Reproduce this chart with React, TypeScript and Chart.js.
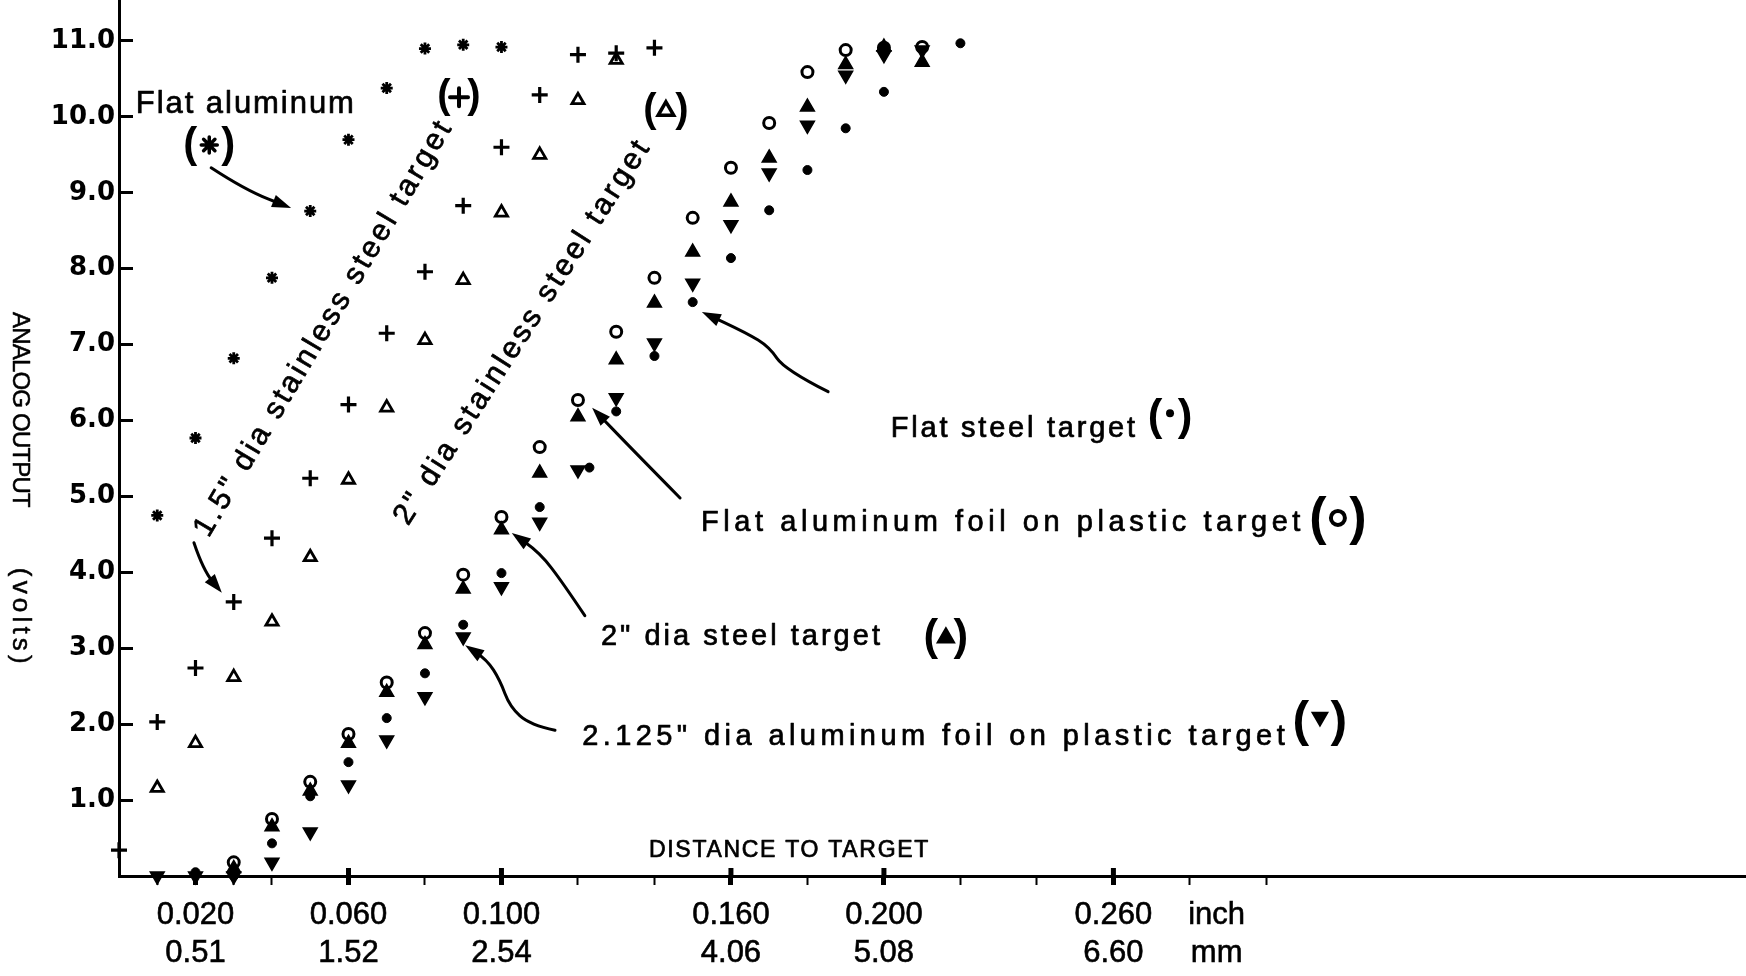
import React, { useEffect, useRef } from "react";
import { Chart, registerables } from "chart.js";

Chart.register(...registerables);

// ---------------- data: distance to target (inch) vs analog output (volts) ----------------
// Flat aluminum (*)
const FLAT_AL_X = [0.01, 0.02, 0.03, 0.04, 0.05, 0.06, 0.07, 0.08, 0.09, 0.10];
const FLAT_AL_Y = [4.75, 5.77, 6.82, 7.88, 8.76, 9.70, 10.38, 10.90, 10.95, 10.92];

// 1.5" dia stainless steel target (+)
const SS15_X = [0.0, 0.01, 0.02, 0.03, 0.04, 0.05, 0.06, 0.07, 0.08, 0.09, 0.10, 0.11, 0.12, 0.13, 0.14];
const SS15_Y = [0.34, 2.03, 2.74, 3.61, 4.45, 5.24, 6.21, 7.15, 7.96, 8.83, 9.60, 10.29, 10.82, 10.84, 10.91];

// 2" dia stainless steel target (open triangle)
const SS2_X = [0.01, 0.02, 0.03, 0.04, 0.05, 0.06, 0.07, 0.08, 0.09, 0.10, 0.11, 0.12, 0.13];
const SS2_Y = [1.16, 1.75, 2.62, 3.35, 4.20, 5.22, 6.17, 7.06, 7.85, 8.74, 9.50, 10.22, 10.75];

// Flat steel target (dot)
const FLAT_STEEL_X = [0.02, 0.03, 0.04, 0.05, 0.06, 0.07, 0.08, 0.09, 0.10, 0.11, 0.123, 0.13, 0.14, 0.15, 0.16, 0.17, 0.18, 0.19, 0.20, 0.22];
const FLAT_STEEL_Y = [0.05, 0.0, 0.43, 1.05, 1.50, 2.08, 2.67, 3.31, 3.99, 4.86, 5.38, 6.12, 6.85, 7.56, 8.14, 8.77, 9.30, 9.85, 10.33, 10.97];

// Flat aluminum foil on plastic target (open circle)
const FOIL_X = [0.03, 0.04, 0.05, 0.06, 0.07, 0.08, 0.09, 0.10, 0.11, 0.12, 0.13, 0.14, 0.15, 0.16, 0.17, 0.18, 0.19, 0.20, 0.21];
const FOIL_Y = [0.18, 0.75, 1.24, 1.87, 2.55, 3.20, 3.97, 4.73, 5.65, 6.27, 7.17, 7.88, 8.67, 9.33, 9.92, 10.59, 10.88, 10.91, 10.92];

// 2" dia steel target (filled triangle)
const STEEL2_X = [0.03, 0.04, 0.05, 0.06, 0.07, 0.08, 0.09, 0.10, 0.11, 0.12, 0.13, 0.14, 0.15, 0.16, 0.17, 0.18, 0.19, 0.20, 0.21];
const STEEL2_Y = [0.10, 0.65, 1.12, 1.75, 2.42, 3.05, 3.78, 4.56, 5.31, 6.05, 6.80, 7.55, 8.22, 8.88, 9.46, 10.13, 10.69, 10.92, 10.72];

// 2.125" dia aluminum foil on plastic target (filled down triangle)
const FOIL2125_X = [0.01, 0.02, 0.03, 0.04, 0.05, 0.06, 0.07, 0.08, 0.09, 0.10, 0.11, 0.12, 0.13, 0.14, 0.15, 0.16, 0.17, 0.18, 0.19, 0.20, 0.21];
const FOIL2125_Y = [0.0, 0.0, 0.0, 0.18, 0.58, 1.20, 1.79, 2.36, 3.15, 3.81, 4.66, 5.35, 6.30, 7.02, 7.81, 8.58, 9.26, 9.89, 10.55, 10.82, 10.88];

// axes
const X_TICKS = [0.01, 0.02, 0.03, 0.04, 0.06, 0.08, 0.10, 0.12, 0.14, 0.16, 0.18, 0.20, 0.22, 0.24, 0.26, 0.28, 0.287, 0.30];
const X_LABEL_VALUES = [0.02, 0.06, 0.10, 0.16, 0.20, 0.26];
const X_LABELS_INCH = ["0.020", "0.060", "0.100", "0.160", "0.200", "0.260"];
const X_LABELS_MM = ["0.51", "1.52", "2.54", "4.06", "5.08", "6.60"];
const X_UNIT_VALUE = 0.287;
const X_UNIT_LABELS = ["inch", "mm"];
const Y_TICKS = [1, 2, 3, 4, 5, 6, 7, 8, 9, 10, 11];
const X_MAX = 0.4254;
const Y_MAX = 11.54;

// ---------------- annotations (placed in data coordinates) ----------------
type Note = { text: string; x: number; y: number; size: number; width: number; align?: "left" | "center"; angle?: number };
const NOTES: Note[] = [
  { text: "Flat aluminum", x: 0.0044, y: 10.17, size: 31, width: 220 },
  { text: '1.5" dia stainless steel target', x: 0.0536, y: 7.22, size: 30, width: 480, align: "center", angle: -59.3 },
  { text: '2" dia stainless steel target', x: 0.1056, y: 7.17, size: 30, width: 452, align: "center", angle: -57.4 },
  { text: "Flat steel target", x: 0.2018, y: 5.89, size: 29, width: 247 },
  { text: "Flat aluminum foil on plastic target", x: 0.1522, y: 4.65, size: 29, width: 604 },
  { text: '2" dia steel target', x: 0.126, y: 3.15, size: 29, width: 282 },
  { text: '2.125" dia aluminum foil on plastic target', x: 0.1211, y: 1.83, size: 29, width: 707 },
  { text: "DISTANCE TO TARGET", x: 0.1753, y: 0.34, size: 23, width: 281, align: "center" },
];

type Key = { style: string; x: number; y: number; size: number; half: number; r: number; filled?: boolean; rot?: number; dy?: number; lw?: number };
const KEYS: Key[] = [
  { style: "star", x: 0.0236, y: 9.63, size: 42, half: 19, r: 8, lw: 3.5 },
  { style: "cross", x: 0.0889, y: 10.26, size: 40, half: 15, r: 9, lw: 4 },
  { style: "triangle", x: 0.143, y: 10.08, size: 40, half: 16, r: 9, filled: false, lw: 3.5 },
  { style: "circle", x: 0.2748, y: 6.03, size: 44, half: 15, r: 4, filled: true, dy: -5 },
  { style: "circle", x: 0.3187, y: 4.69, size: 52, half: 20, r: 7, filled: false, dy: -2, lw: 4 },
  { style: "triangle", x: 0.2162, y: 3.14, size: 44, half: 15, r: 9, filled: true },
  { style: "triangle", x: 0.314, y: 2.03, size: 50, half: 19, r: 8, filled: true, rot: 180, dy: -5 },
];

const ARROWS: number[][][] = [
  [[0.0241, 9.33], [0.0329, 9.04], [0.045, 8.8]],
  [[0.0196, 4.39], [0.022, 4.03], [0.0269, 3.73]],
  [[0.1854, 6.38], [0.1741, 6.67], [0.17, 6.97], [0.1642, 7.15], [0.1524, 7.43]],
  [[0.1467, 4.98], [0.1336, 5.65], [0.1237, 6.17]],
  [[0.1218, 3.43], [0.1161, 3.86], [0.11, 4.26], [0.1027, 4.52]],
  [[0.114, 1.92], [0.1075, 1.99], [0.1022, 2.23], [0.0996, 2.58], [0.0962, 2.85], [0.0905, 3.04]],
];

const FONT = "'Liberation Sans', Arial, sans-serif";

function pts(xs: number[], ys: number[]) {
  return xs.map((x, i) => ({ x, y: ys[i] }));
}

function drawMarker(ctx: CanvasRenderingContext2D, style: string, x: number, y: number, r: number, filled: boolean, rot: number, lw: number) {
  ctx.save();
  ctx.translate(x, y);
  ctx.rotate((rot * Math.PI) / 180);
  ctx.strokeStyle = "#000";
  ctx.fillStyle = "#000";
  ctx.lineWidth = lw;
  ctx.lineCap = "round";
  ctx.beginPath();
  if (style === "circle") {
    ctx.arc(0, 0, r, 0, Math.PI * 2);
    filled ? ctx.fill() : ctx.stroke();
  } else if (style === "triangle") {
    ctx.moveTo(0, -r);
    ctx.lineTo(r * 0.866, r * 0.5);
    ctx.lineTo(-r * 0.866, r * 0.5);
    ctx.closePath();
    if (filled) {
      ctx.fill();
      ctx.stroke();
    } else ctx.stroke();
  } else if (style === "cross") {
    ctx.moveTo(-r, 0);
    ctx.lineTo(r, 0);
    ctx.moveTo(0, -r);
    ctx.lineTo(0, r);
    ctx.stroke();
  } else {
    for (let i = 0; i < 4; i++) {
      const a = (i * Math.PI) / 4;
      ctx.moveTo(-r * Math.cos(a), -r * Math.sin(a));
      ctx.lineTo(r * Math.cos(a), r * Math.sin(a));
    }
    ctx.stroke();
  }
  ctx.restore();
}

function fitText(ctx: CanvasRenderingContext2D, text: string, x: number, y: number, width: number, font: string, align: string, angle: number, weight = 0.7) {
  ctx.save();
  ctx.font = font;
  (ctx as any).letterSpacing = "0px";
  const natural = ctx.measureText(text).width;
  const sp = (width - natural) / Math.max(1, text.length);
  (ctx as any).letterSpacing = sp.toFixed(2) + "px";
  ctx.translate(x, y);
  ctx.rotate((angle * Math.PI) / 180);
  ctx.textBaseline = "middle";
  ctx.textAlign = "left";
  ctx.fillStyle = "#000";
  ctx.strokeStyle = "#000";
  ctx.lineWidth = weight;
  ctx.lineJoin = "round";
  const sx = align === "center" ? -width / 2 : 0;
  if (weight > 0) ctx.strokeText(text, sx, 0);
  ctx.fillText(text, sx, 0);
  ctx.restore();
}

const annotationPlugin = {
  id: "sensorAnnotations",
  afterDatasetsDraw(chart: any) {
    const { ctx, chartArea } = chart;
    const xs = chart.scales.x;
    const ys = chart.scales.y;
    const px = (v: number) => xs.getPixelForValue(v);
    const py = (v: number) => ys.getPixelForValue(v);

    // text notes
    for (const n of NOTES) {
      fitText(ctx, n.text, px(n.x), py(n.y), n.width, `${n.size}px ${FONT}`, n.align || "left", n.angle || 0);
    }

    // keys: (marker)
    for (const k of KEYS) {
      const cx = px(k.x);
      const cy = py(k.y);
      ctx.save();
      ctx.font = `bold ${k.size}px ${FONT}`;
      ctx.textBaseline = "middle";
      ctx.textAlign = "center";
      ctx.fillStyle = "#000";
      ctx.fillText("(", cx - k.half, cy);
      ctx.fillText(")", cx + k.half, cy);
      ctx.restore();
      drawMarker(ctx, k.style, cx, cy + (k.dy || 0), k.r, !!k.filled, k.rot || 0, k.lw || 2.5);
    }

    // arrows
    ctx.save();
    ctx.strokeStyle = "#000";
    ctx.fillStyle = "#000";
    ctx.lineWidth = 3;
    ctx.lineCap = "round";
    ctx.lineJoin = "round";
    for (const a of ARROWS) {
      const p = a.map(([x, y]) => [px(x), py(y)]);
      ctx.beginPath();
      ctx.moveTo(p[0][0], p[0][1]);
      for (let i = 1; i < p.length - 1; i++) {
        const mx = (p[i][0] + p[i + 1][0]) / 2;
        const my = (p[i][1] + p[i + 1][1]) / 2;
        ctx.quadraticCurveTo(p[i][0], p[i][1], mx, my);
      }
      const tip = p[p.length - 1];
      const prev = p[p.length - 2];
      const ang = Math.atan2(tip[1] - prev[1], tip[0] - prev[0]);
      const L = 19;
      const W = 6.5;
      ctx.lineTo(tip[0] - (L - 4) * Math.cos(ang), tip[1] - (L - 4) * Math.sin(ang));
      ctx.stroke();
      ctx.beginPath();
      ctx.moveTo(tip[0], tip[1]);
      ctx.lineTo(tip[0] - L * Math.cos(ang) + W * Math.sin(ang), tip[1] - L * Math.sin(ang) - W * Math.cos(ang));
      ctx.lineTo(tip[0] - L * Math.cos(ang) - W * Math.sin(ang), tip[1] - L * Math.sin(ang) + W * Math.cos(ang));
      ctx.closePath();
      ctx.fill();
    }
    ctx.restore();

    // major x tick marks also reach above the axis line
    ctx.save();
    ctx.strokeStyle = "#000";
    ctx.lineWidth = 5;
    for (const v of X_LABEL_VALUES) {
      const x = px(v);
      ctx.beginPath();
      ctx.moveTo(x, chartArea.bottom - 8);
      ctx.lineTo(x, chartArea.bottom);
      ctx.stroke();
    }
    ctx.restore();

    // y-axis title, rotated to read top-to-bottom
    fitText(ctx, "ANALOG OUTPUT", chartArea.left - 99, py(7.43), 195, `24px ${FONT}`, "left", 90, 0.5);
    fitText(ctx, "(volts)", chartArea.left - 99, py(4.06), 100, `26px ${FONT}`, "left", 90, 0.5);
  },
};

function isLabelTick(v: number) {
  return X_LABEL_VALUES.findIndex((t) => Math.abs(t - v) < 1e-6);
}

export default function App() {
  const ref = useRef<HTMLCanvasElement>(null);

  useEffect(() => {
    const canvas = ref.current;
    if (!canvas) return;
    Chart.defaults.font.family = FONT;
    Chart.defaults.color = "#000";

    const base = { showLine: false, clip: false as any, pointBorderColor: "#000" };
    const chart = new Chart(canvas, {
      type: "scatter",
      data: {
        datasets: [
          { ...base, label: "Flat aluminum", data: pts(FLAT_AL_X, FLAT_AL_Y), pointStyle: "star", pointRadius: 6, pointBorderWidth: 2.8, pointBackgroundColor: "#000" },
          { ...base, label: '1.5" dia stainless steel target', data: pts(SS15_X, SS15_Y), pointStyle: "cross", pointRadius: 8, pointBorderWidth: 3.2, pointBackgroundColor: "#000" },
          { ...base, label: '2" dia stainless steel target', data: pts(SS2_X, SS2_Y), pointStyle: "triangle", pointRadius: 7, pointBorderWidth: 2.8, pointBackgroundColor: "rgba(0,0,0,0)" },
          { ...base, label: "Flat steel target", data: pts(FLAT_STEEL_X, FLAT_STEEL_Y), pointStyle: "circle", pointRadius: 4.5, pointBorderWidth: 1, pointBackgroundColor: "#000" },
          { ...base, label: "Flat aluminum foil on plastic target", data: pts(FOIL_X, FOIL_Y), pointStyle: "circle", pointRadius: 5.5, pointBorderWidth: 3, pointBackgroundColor: "rgba(0,0,0,0)" },
          { ...base, label: '2" dia steel target', data: pts(STEEL2_X, STEEL2_Y), pointStyle: "triangle", pointRadius: 8, pointBorderWidth: 1.5, pointBackgroundColor: "#000" },
          { ...base, label: '2.125" dia aluminum foil on plastic target', data: pts(FOIL2125_X, FOIL2125_Y), pointStyle: "triangle", pointRotation: 180, pointRadius: 8, pointBorderWidth: 1.5, pointBackgroundColor: "#000" },
        ] as any,
      },
      options: {
        responsive: false,
        maintainAspectRatio: false,
        animation: false,
        devicePixelRatio: 1,
        events: [],
        layout: { padding: 0, autoPadding: false } as any,
        plugins: { legend: { display: false }, tooltip: { enabled: false }, title: { display: false } },
        scales: {
          x: {
            type: "linear",
            min: 0,
            max: X_MAX,
            afterFit: (s: any) => {
              s.height = 100;
              s.paddingLeft = 0;
              s.paddingRight = 0;
            },
            afterBuildTicks: (s: any) => {
              s.ticks = X_TICKS.map((v) => ({ value: v }));
            },
            border: { display: true, color: "#000", width: 3 },
            grid: {
              drawOnChartArea: false,
              drawTicks: true,
              tickLength: 9,
              tickWidth: (c: any) => (isLabelTick(c.tick?.value) >= 0 ? 5 : 2),
              tickColor: (c: any) => (Math.abs((c.tick?.value ?? 0) - X_UNIT_VALUE) < 1e-6 ? "rgba(0,0,0,0)" : "#000"),
            },
            ticks: {
              autoSkip: false,
              maxRotation: 0,
              padding: 11,
              color: "#000",
              textStrokeColor: "#000",
              textStrokeWidth: 0.6,
              font: { family: FONT, size: 31, lineHeight: 1.24 },
              callback: (v: any) => {
                const val = Number(v);
                if (Math.abs(val - X_UNIT_VALUE) < 1e-6) return X_UNIT_LABELS;
                const i = isLabelTick(val);
                return i >= 0 ? [X_LABELS_INCH[i], X_LABELS_MM[i]] : "";
              },
            },
          },
          y: {
            type: "linear",
            min: 0,
            max: Y_MAX,
            afterFit: (s: any) => {
              s.width = 119;
              s.paddingTop = 0;
              s.paddingBottom = 0;
            },
            afterBuildTicks: (s: any) => {
              s.ticks = Y_TICKS.map((v) => ({ value: v }));
            },
            border: { display: true, color: "#000", width: 3 },
            grid: { drawOnChartArea: false, drawTicks: true, tickLength: -14, tickWidth: 3, tickColor: "#000" },
            ticks: {
              padding: 18,
              color: "#000",
              font: { family: "'DejaVu Sans', sans-serif", size: 26, weight: "bold" },
              callback: (v: any) => Number(v).toFixed(1),
            },
          },
        },
      },
      plugins: [annotationPlugin],
    } as any);
    return () => chart.destroy();
  }, []);

  return (
    <div style={{ position: "absolute", left: 0, top: 0, width: 1746, height: 976, background: "#fff" }}>
      <canvas ref={ref} width={1746} height={976} style={{ display: "block", width: 1746, height: 976 }} />
    </div>
  );
}
